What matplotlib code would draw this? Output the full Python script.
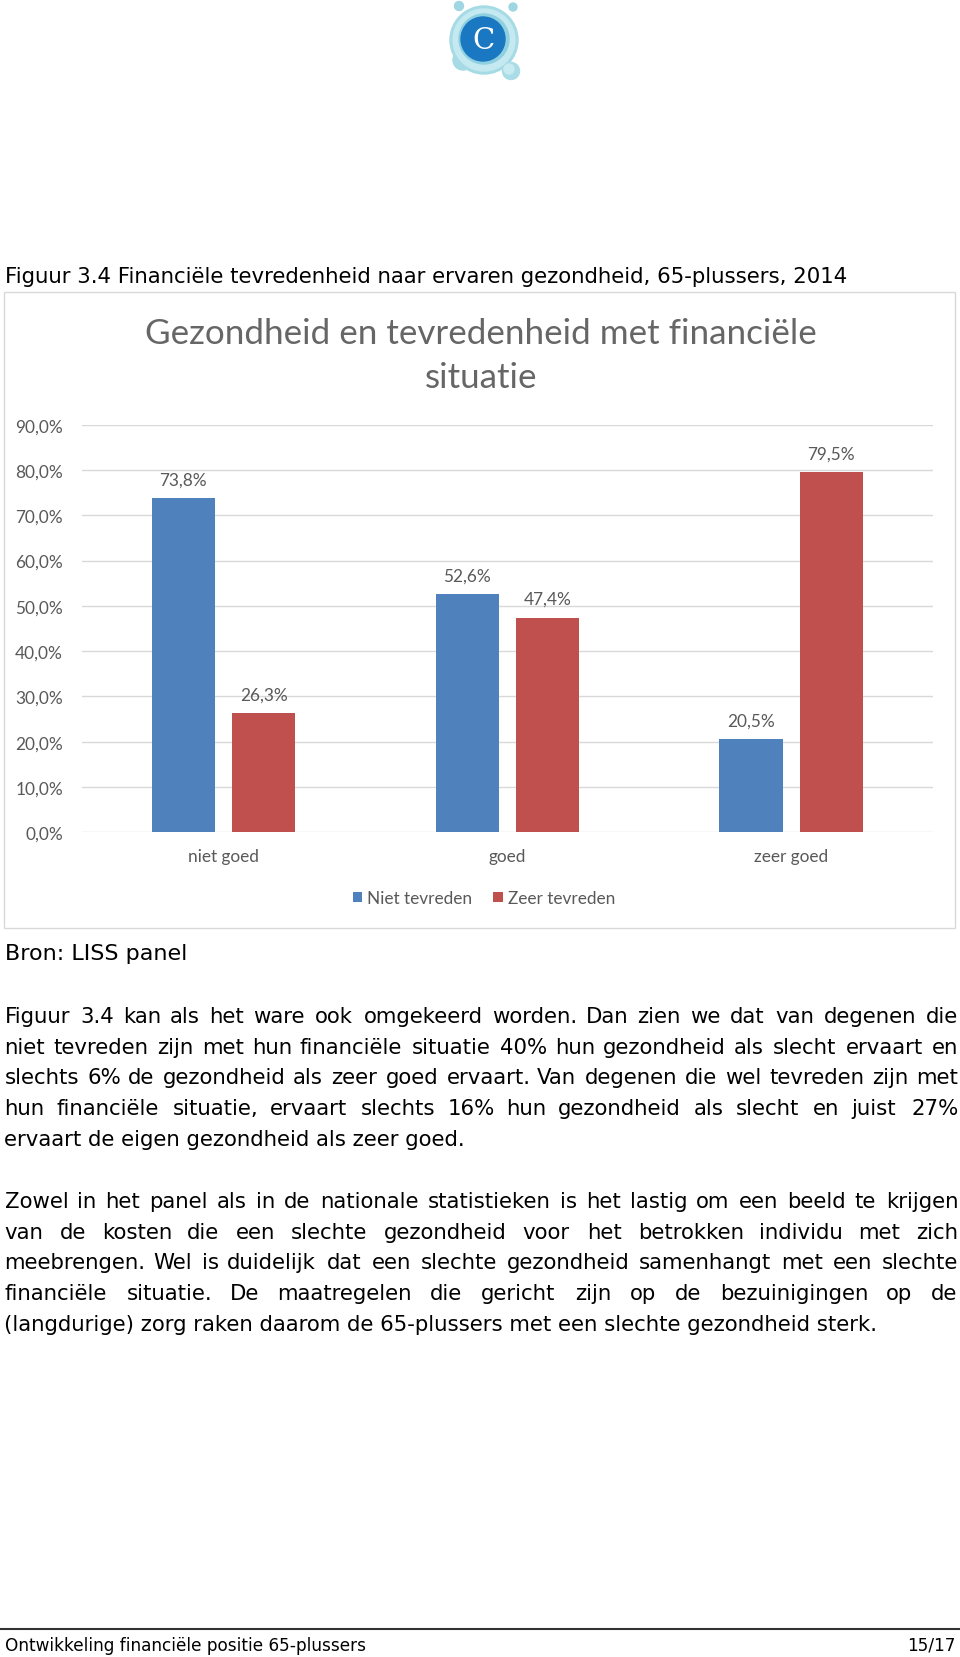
import matplotlib
matplotlib.use("Agg")
import numpy as np
import matplotlib.pyplot as plt
from matplotlib.patches import Rectangle, Circle
from matplotlib.font_manager import FontProperties
from matplotlib.textpath import TextPath

W, H, DPI = 960, 1658, 100

# ---------------- data ----------------
categories = ["niet goed", "goed", "zeer goed"]
series_labels = ["Niet tevreden", "Zeer tevreden"]
niet_tevreden = [73.8, 52.6, 20.5]
zeer_tevreden = [26.3, 47.4, 79.5]
y_ticks = [0, 10, 20, 30, 40, 50, 60, 70, 80, 90]
y_tick_labels = ["0,0%", "10,0%", "20,0%", "30,0%", "40,0%",
                 "50,0%", "60,0%", "70,0%", "80,0%", "90,0%"]

chart_title_lines = ["Gezondheid en tevredenheid met financiële", "situatie"]
page_heading = "Figuur 3.4 Financiële tevredenheid naar ervaren gezondheid, 65-plussers, 2014"
source_text = "Bron: LISS panel"
paragraph1 = [
    "Figuur 3.4 kan als het ware ook omgekeerd worden. Dan zien we dat van degenen die",
    "niet tevreden zijn met hun financiële situatie 40% hun gezondheid als slecht ervaart en",
    "slechts 6% de gezondheid als zeer goed ervaart. Van degenen die wel tevreden zijn met",
    "hun financiële situatie, ervaart slechts 16% hun gezondheid als slecht en juist 27%",
    "ervaart de eigen gezondheid als zeer goed.",
]
paragraph2 = [
    "Zowel in het panel als in de nationale statistieken is het lastig om een beeld te krijgen",
    "van de kosten die een slechte gezondheid voor het betrokken individu met zich",
    "meebrengen. Wel is duidelijk dat een slechte gezondheid samenhangt met een slechte",
    "financiële situatie. De maatregelen die gericht zijn op de bezuinigingen op de",
    "(langdurige) zorg raken daarom de 65-plussers met een slechte gezondheid sterk.",
]
footer_left = "Ontwikkeling financiële positie 65-plussers"
footer_right = "15/17"

BLUE = "#4f81bd"
RED = "#c0504d"
GREY_TXT = "#595959"
GRID = "#d9d9d9"
CHART_FONT = "Lato"
BODY_FONT = "DejaVu Sans"


def px_width(s, family, size_pt):
    tp = TextPath((0, 0), s, size=size_pt, prop=FontProperties(family=family))
    return tp.get_extents().width * DPI / 72.0


def fit_size(s, family, target_px):
    return 10.0 * target_px / px_width(s, family, 10.0)


fig = plt.figure(figsize=(W / DPI, H / DPI), dpi=DPI)
fig.patch.set_facecolor("white")

# page overlay in pixel coordinates
pg = fig.add_axes([0, 0, 1, 1], zorder=0)
pg.set_xlim(0, W)
pg.set_ylim(H, 0)
pg.axis("off")

# ---------------- logo ----------------
pg.add_patch(Circle((463, 61), 10, color="#a6dbe6", zorder=1))
pg.add_patch(Circle((484, 41), 34, color="#a6dbe6", zorder=1))
pg.add_patch(Circle((484, 41), 31, color="#c4e9f0", zorder=1))
pg.add_patch(Circle((484, 40), 25, color="#8fd0e0", zorder=1))
pg.add_patch(Circle((483, 40), 22, color="#1a78c2", zorder=2))
pg.text(483, 41, "C", fontsize=21, family="DejaVu Serif", color="white",
        ha="center", va="center", zorder=3)
pg.add_patch(Circle((459, 7), 4.5, color="#9fd6e2", zorder=1))
pg.add_patch(Circle((513, 8), 4, color="#9fd6e2", zorder=1))
pg.add_patch(Circle((511, 72), 8.5, color="#a9dce7", zorder=1))
pg.add_patch(Circle((509, 70), 5, color="#c8ebf2", zorder=1))

# ---------------- page heading ----------------
fs_head = fit_size(page_heading, BODY_FONT, 841)
pg.text(5, 283, page_heading, fontsize=fs_head, family=BODY_FONT,
        color="black", ha="left", va="baseline")

# chart frame
pg.add_patch(Rectangle((3.5, 292.5), 951.5, 636.5, fill=False,
                       edgecolor=GRID, lw=1.0, zorder=1))

# chart title
fs_title = fit_size(chart_title_lines[0], CHART_FONT, 667)
for ln, yy in zip(chart_title_lines, (344, 388)):
    pg.text(481, yy, ln, fontsize=fs_title, family=CHART_FONT,
            color="#666666", ha="center", va="baseline")

# ---------------- chart ----------------
fs_chart = fit_size("90,0%", CHART_FONT, 46)
ax_l, ax_r, ax_t, ax_b = 81.7, 933.0, 425.7, 833.3
ax = fig.add_axes([ax_l / W, (H - ax_b) / H, (ax_r - ax_l) / W, (ax_b - ax_t) / H],
                  zorder=2)
ax.patch.set_alpha(0)
x = np.arange(len(categories))
bw = 0.223
off = 0.1415
b1 = ax.bar(x - off, niet_tevreden, bw, color=BLUE, label=series_labels[0], zorder=3)
b2 = ax.bar(x + off, zeer_tevreden, bw, color=RED, label=series_labels[1], zorder=3)
ax.set_xlim(-0.5, len(categories) - 0.5)
ax.set_ylim(0, 90)
ax.set_yticks(y_ticks)
ax.set_yticklabels(y_tick_labels)
ax.set_xticks(x)
ax.set_xticklabels(categories)
for s in ax.spines.values():
    s.set_visible(False)
ax.yaxis.grid(True, color=GRID, lw=1.0, zorder=0)
ax.set_axisbelow(True)
ax.tick_params(axis="y", length=0, pad=13.5, labelsize=fs_chart, labelcolor=GREY_TXT)
ax.tick_params(axis="x", length=0, pad=11, labelsize=fs_chart, labelcolor=GREY_TXT)
for lab in ax.get_xticklabels() + ax.get_yticklabels():
    lab.set_family(CHART_FONT)

for bars, vals in ((b1, niet_tevreden), (b2, zeer_tevreden)):
    for rect, v in zip(bars, vals):
        ax.annotate(f"{v:.1f}%".replace(".", ","),
                    (rect.get_x() + rect.get_width() / 2, v),
                    xytext=(0, 10), textcoords="offset points",
                    ha="center", va="baseline", fontsize=fs_chart,
                    family=CHART_FONT, color=GREY_TXT)

leg = fig.legend(handles=[b1, b2], labels=series_labels, loc="center",
                 bbox_to_anchor=(484 / W, 1 - 899 / H), ncol=2, frameon=False,
                 handlelength=0.55, handleheight=0.55, handletextpad=0.3,
                 columnspacing=1.2, prop=FontProperties(family=CHART_FONT, size=fs_chart))
for t in leg.get_texts():
    t.set_color(GREY_TXT)

# ---------------- source ----------------
fs_src = fit_size(source_text, BODY_FONT, 178)
pg.text(5, 960, source_text, fontsize=fs_src, family=BODY_FONT, color="black",
        ha="left", va="baseline")

# ---------------- body text ----------------
fs_body = fit_size(paragraph2[-1], BODY_FONT, 871)
X0, X1 = 4.5, 955.5


def draw_line(s, y, justify):
    if not justify:
        pg.text(X0, y, s, fontsize=fs_body, family=BODY_FONT, color="black",
                ha="left", va="baseline")
        return
    words = s.split(" ")
    widths = [px_width(w, BODY_FONT, fs_body) for w in words]
    gap = (X1 - X0 - sum(widths)) / (len(words) - 1)
    xx = X0
    for w, wd in zip(words, widths):
        pg.text(xx, y, w, fontsize=fs_body, family=BODY_FONT, color="black",
                ha="left", va="baseline")
        xx += wd + gap


LS = 30.7
for i, line in enumerate(paragraph1):
    draw_line(line, 1023 + i * LS, i < len(paragraph1) - 1)
for i, line in enumerate(paragraph2):
    draw_line(line, 1208 + i * LS, i < len(paragraph2) - 1)

# ---------------- footer ----------------
pg.plot([0, W], [1630, 1630], color="#333333", lw=1.5)
fs_foot = fit_size(footer_left, BODY_FONT, 360)
pg.text(5, 1651, footer_left, fontsize=fs_foot, family=BODY_FONT, color="black",
        ha="left", va="baseline")
pg.text(956, 1651, footer_right, fontsize=fs_foot, family=BODY_FONT, color="black",
        ha="right", va="baseline")

fig.savefig("out.png", dpi=DPI)
